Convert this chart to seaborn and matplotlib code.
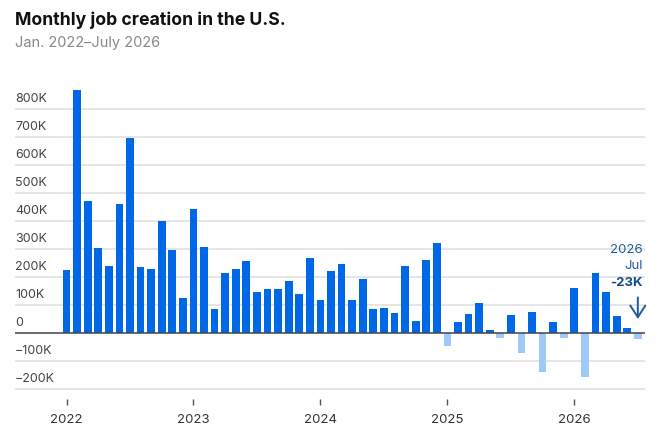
import matplotlib
matplotlib.use("Agg")
import matplotlib.pyplot as plt
import matplotlib.transforms as mtransforms
import seaborn as sns
import pandas as pd
import numpy as np

# ---- data (thousands of jobs) ----
months = pd.date_range("2022-01-01", "2026-07-01", freq="MS")
jobs_2022 = [224, 869, 470, 303, 240, 460, 696, 235, 227, 400, 296, 125]
jobs_2023 = [443, 306, 86, 216, 227, 257, 147, 157, 157, 187, 140, 269]
jobs_2024 = [119, 222, 246, 118, 193, 87, 88, 71, 239, 43, 260, 323]
jobs_2025 = [-48, 40, 67, 107, 12, -19, 64, -70, 75, -140, 40, -17]
jobs_2026 = [159, -156, 214, 147, 62, 19, -23]
jobs = jobs_2022 + jobs_2023 + jobs_2024 + jobs_2025 + jobs_2026
year_ticks = ["2022", "2023", "2024", "2025", "2026"]
y_ticks = [-200, -100, 0, 100, 200, 300, 400, 500, 600, 700, 800]

title = "Monthly job creation in the U.S."
subtitle = "Jan. 2022\u2013July 2026"

df = pd.DataFrame({
    "idx": np.arange(len(jobs)),
    "value": np.array(jobs) * 1000,
    "sign": ["pos" if v >= 0 else "neg" for v in jobs],
})

sns.set_theme(style="white")
plt.rcParams["font.family"] = ["Inter", "DejaVu Sans"]

fig = plt.figure(figsize=(6.67, 4.44), dpi=100)
ax = fig.add_axes([15 / 667, 1 - 399 / 444, (645 - 15) / 667, (399 - 85) / 444])

blue = "#0068e6"
light = "#9fc9fb"
sns.barplot(data=df, x="idx", y="value", hue="sign", native_scale=True,
            palette={"pos": blue, "neg": light}, width=0.73, dodge=False,
            saturation=1, edgecolor="none", linewidth=0, legend=False, ax=ax, zorder=3)

px100 = 28.04
ax.set_ylim(-200000 - (399 - 389) / px100 * 100000, 800000 + (109 - 85) / px100 * 100000)
ax.set_xlim(-(66.5 - 15) / 10.58, (645 - 66.5) / 10.58)

# grid
for t in y_ticks:
    if t == 0:
        continue
    ax.axhline(t * 1000, color="#e0e0e0", lw=1.2, zorder=1)
ax.axhline(0, color="#444444", lw=1.1, zorder=4)

# y labels above gridlines
ax.set_yticks([])
offs = mtransforms.offset_copy(ax.transData, fig=fig, x=0, y=3, units="points")
for t in y_ticks:
    lbl = "0" if t == 0 else (f"{t}K" if t > 0 else f"\u2212{-t}K")
    tr = mtransforms.blended_transform_factory(ax.transAxes, offs)
    ax.text(0.0, t * 1000, lbl, transform=tr, ha="left", va="bottom",
            fontsize=9, color="#444444", zorder=5)

# x ticks at January of each year
ax.set_xticks([i * 12 for i in range(len(year_ticks))])
ax.set_xticklabels(year_ticks, fontsize=9.5, color="#333333")
ax.tick_params(axis="x", length=4, width=1, color="#555555", direction="out", pad=7, bottom=True)
ax.set_xlabel("")
ax.set_ylabel("")
for s in ax.spines.values():
    s.set_visible(False)

# annotation for last month
last = len(jobs) - 1
ann_color = "#1d5c9c"
ax.text(last + 0.49, 297000, "2026", ha="right", va="center", fontsize=9.5, color=ann_color)
ax.text(last + 0.49, 240000, "Jul", ha="right", va="center", fontsize=9.5, color=ann_color)
ax.text(last + 0.49, 180000, f"{jobs[-1]}K", ha="right", va="center", fontsize=9.5,
        fontweight="bold", color="#154f8a")
ax.annotate("", xy=(last, 40000), xytext=(last, 137000),
            arrowprops=dict(arrowstyle="->,head_width=0.45,head_length=0.7", color=ann_color, lw=1.4))

fig.text(15 / 667, 1 - 20 / 444, title, ha="left", va="center", fontsize=12.7,
         fontweight="bold", color="#111111")
fig.text(15 / 667, 1 - 43 / 444, subtitle, ha="left", va="center", fontsize=10.5,
         color="#888888")

fig.savefig("out.png", dpi=100)
